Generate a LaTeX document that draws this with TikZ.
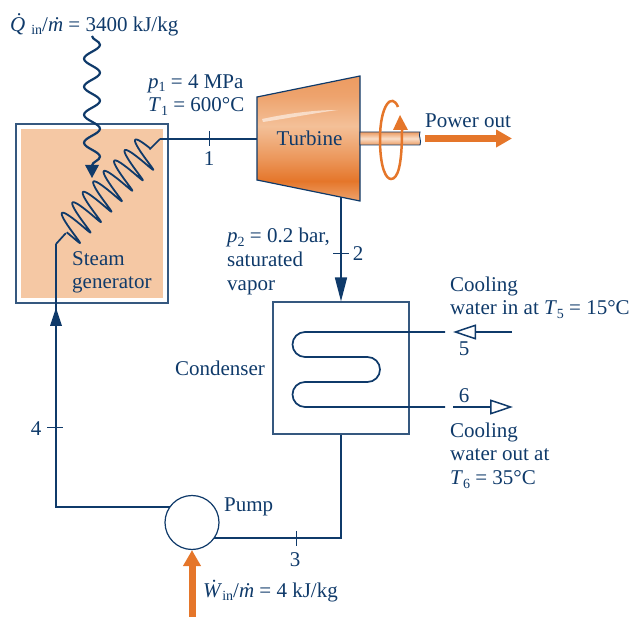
\documentclass[tikz,border=0pt]{standalone}
\usepackage{fontspec}
\setmainfont{Liberation Serif}
\usetikzlibrary{arrows.meta,decorations.pathmorphing}
\definecolor{navy}{HTML}{0F3A6A}
\definecolor{boxline}{HTML}{35587F}
\definecolor{flame}{HTML}{E5762A}
\definecolor{peach}{HTML}{F5C8A4}
\pgfdeclareverticalshading{turbineshade}{100bp}{
  color(0bp)=(peach!55!flame); color(25bp)=(peach!55!flame); color(33bp)=(flame); color(42bp)=(flame!60!peach);
  color(55bp)=(peach!90!flame); color(67bp)=(flame!45!peach); color(75bp)=(flame!55!peach); color(100bp)=(flame!55!peach)}
\pgfdeclareverticalshading{shaftshade}{100bp}{
  color(0bp)=(flame!55!peach); color(25bp)=(flame!55!peach); color(50bp)=(peach!60!white); color(75bp)=(flame!55!peach); color(100bp)=(flame!55!peach)}
\newcommand{\subnum}[1]{\raisebox{-3.5pt}{\fontsize{14}{14}\selectfont #1}}
\tikzset{
  pipe/.style={draw=navy, line width=1.7pt},
  pipearrow/.style={pipe, -{Stealth[length=24pt,width=12pt,inset=0pt]}},
  tick/.style={draw=navy, line width=1pt},
  openarrow/.style={draw=navy, line width=1.5pt, -{Triangle[open,length=23pt,width=15pt,fill=white]}},
  bigarrow/.style={draw=flame, line width=7pt, -{Triangle[length=16pt,width=17pt]}},
  lab/.style={text=navy, inner sep=0pt, font=\fontsize{21}{23.7}\selectfont},
  leftlab/.style={lab, align=left, anchor=north west},
  unit/.style={x=1pt,y=-1pt}
}
\begin{document}
\begin{tikzpicture}[unit]
\useasboundingbox (0,0) rectangle (635,617);
% steam generator
\node[draw=boxline, line width=1.2pt, minimum width=152pt, minimum height=179pt, inner sep=0pt] (gen) at (92,213.5) {};
\fill[peach] (21,129) rectangle (163,298);
\node[leftlab] (genlab) at (72,251) {Steam\\generator};
% turbine
\path[shading=turbineshade, draw=navy, line width=1.2pt] (257,97) -- (360,76) -- (360,201) -- (257,180) -- cycle;
\fill[white, opacity=.55] (262,119) .. controls (290,113) and (315,110) .. (338,110) .. controls (315,113) and (290,118) .. (263,122) -- cycle;
\coordinate (turbin) at (257,139);
\coordinate (turbout) at (341,197);
\node[lab] (turblab) at (309.5,138) {Turbine};
% shaft
\path[shading=shaftshade, draw=navy, line width=.9pt] (360,132) -- (420,132) .. controls (418,136) and (422,141) .. (420,145) -- (360,145) -- cycle;
\draw[draw=flame, line width=2.5pt] (398,107) .. controls (392,92) and (380,105) .. (380,139) .. controls (380,168) and (386,179) .. (391,179) .. controls (398,179) and (402,165) .. (402,130);
\fill[flame] (400,115) -- (408,130) -- (393,130) -- cycle;
% power out
\coordinate (powstart) at (425,138.5);
\coordinate (powend) at (512,138.5);
\draw[bigarrow] (powstart) -- (powend);
\node[lab] (powlab) at (468,120.5) {Power out};
% heat in
\node[lab, anchor=west] (qlab) at (10,25) {\textit{\.Q}\subnum{in}/\textit{\.m} = 3400 kJ/kg};
\coordinate (qstart) at (92,36);
\coordinate (qend) at (92,178);
\draw[draw=navy, line width=2.2pt, decorate, decoration={snake, segment length=28pt, amplitude=8pt}] (qstart) -- (92,166);
\fill[navy] (qend) -- (85,165) -- (99,165) -- cycle;
% coil in the generator
\coordinate (coilin) at (65.8,233.2);
\coordinate (coilout) at (149.5,149.5);
\draw[draw=navy, line width=1.8pt, line join=round] plot[domain=-90:2790, samples=600, variable=\t] ({68.4+.707*(.0411*\t-1.3*sin(\t))+11.6*cos(\t)},{230.6-.707*(.0411*\t-1.3*sin(\t))+12.4*cos(\t)});
\draw[pipe] (56,244) -- (coilin);
\draw[pipe] (coilout) -- (160,139);
% main loop
\draw[pipe] (160,139) -- (turbin);
\draw[tick] (209,131) -- (209,146);
\node[lab] (n1) at (209,159) {1};
\node[leftlab] (p1lab) at (148,74) {\textit{p}\subnum{1} = 4 MPa\\\textit{T}\subnum{1} = 600°C};
\node[draw=boxline, line width=1.2pt, minimum width=136pt, minimum height=132pt, inner sep=0pt] (cond) at (341,368) {};
\draw[pipearrow] (turbout) -- (cond.north);
\draw[tick] (333,254) -- (349,254);
\node[lab] (n2) at (358,254) {2};
\node[leftlab] (p2lab) at (227,228) {\textit{p}\subnum{2} = 0.2 bar,\\saturated\\vapor};
\node[lab] (condlab) at (220,368) {Condenser};
% condenser tube
\coordinate (cwin) at (445,332);
\coordinate (cwout) at (445,407);
\draw[pipe] (cwin) -- (305,332) arc[start angle=90, end angle=270, radius=12.5pt] -- (367.5,357) arc[start angle=90, end angle=-90, radius=12.5pt] -- (305,382) arc[start angle=90, end angle=270, radius=12.5pt] -- (cwout);
\coordinate (w5a) at (512,332);
\coordinate (w5b) at (453,332);
\coordinate (w6a) at (453,407);
\coordinate (w6b) at (513,407);
\draw[openarrow] (w5a) -- (w5b);
\draw[openarrow] (w6a) -- (w6b);
\node[lab] (n5) at (464,349) {5};
\node[lab] (n6) at (464,396) {6};
\node[leftlab] (cinlab) at (450,276.5) {Cooling\\water in at \textit{T}\subnum{5} = 15°C};
\node[leftlab] (coutlab) at (450,422.5) {Cooling\\water out at\\\textit{T}\subnum{6} = 35°C};
% pump
\node[draw=navy, fill=white, circle, line width=1.2pt, minimum size=54pt, inner sep=0pt] (pump) at (192,522.5) {};
\coordinate (c1) at (341,538);
\draw[pipe] (cond.south -| c1) -- (c1) -- (214,538);
\draw[tick] (296,531) -- (296,546);
\node[lab] (n3) at (295,560) {3};
\node[lab, anchor=west] (pumplab) at (224,507) {Pump};
\coordinate (c2) at (56,507);
\draw[pipe] (170,507) -- (c2) -- (56,244);
\fill[navy] (56,308) -- (62,326) -- (50,326) -- cycle;
\draw[tick] (47,428) -- (63,428);
\node[lab] (n4) at (36,429) {4};
% work in
\coordinate (wstart) at (192,617);
\draw[bigarrow] (wstart) -- (pump.south);
\node[lab, anchor=west] (wlab) at (203,591) {\textit{\.W}\subnum{in}/\textit{\.m} = 4 kJ/kg};
\end{tikzpicture}
\end{document}
